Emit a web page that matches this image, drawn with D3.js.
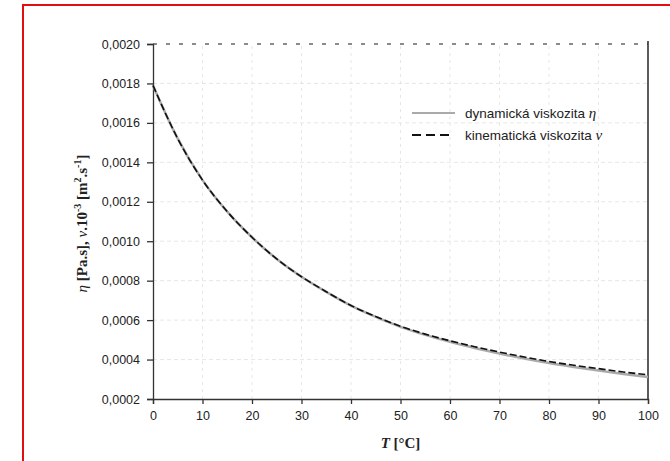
<!DOCTYPE html>
<html lang="cs">
<head>
<meta charset="UTF-8">
<title>Viskozita vody</title>
<script src="https://d3js.org/d3.v7.min.js"></script>
<style>
  body { margin: 0; background: #fff; }
  .tick text { font-family: Arial, "Liberation Sans", sans-serif; font-size: 12.5px; fill: #222; }
  .lab { font-family: "Liberation Serif", "Times New Roman", serif; font-weight: bold; font-size: 15px; fill: #222; }
  .leg { font-family: Arial, "Liberation Sans", sans-serif; font-size: 13.5px; fill: #222; }
</style>
</head>
<body>
<svg id="chart" width="670" height="461"></svg>
<script>
// temperatures [°C]
const temps = [0, 5, 10, 15, 20, 25, 30, 35, 40, 45, 50, 55, 60, 65, 70, 75, 80, 85, 90, 95, 100];
// dynamic viscosity eta [Pa.s]
const dynVisc = [0.00179, 0.00152, 0.00131, 0.00115, 0.00102, 0.00091, 0.00082, 0.000743, 0.000673, 0.000616,
  0.000566, 0.000525, 0.00049, 0.000459, 0.000431, 0.000405, 0.000382, 0.000362, 0.000344, 0.000327, 0.000312];
// kinematic viscosity nu * 10^-3 [m2.s-1]
const kinVisc = [0.00179, 0.00152, 0.00131, 0.00115, 0.00102, 0.00091, 0.00082, 0.000744, 0.000674, 0.000618,
  0.000569, 0.000529, 0.000495, 0.000465, 0.000438, 0.000413, 0.00039, 0.000371, 0.000354, 0.000337, 0.000323];
const xTicks = [0, 10, 20, 30, 40, 50, 60, 70, 80, 90, 100];
const yTicks = [0.0002, 0.0004, 0.0006, 0.0008, 0.0010, 0.0012, 0.0014, 0.0016, 0.0018, 0.0020];

const svg = d3.select("#chart");
const margin = { top: 44, left: 153, right: 22, bottom: 62 };
const W = 670, H = 461;

// red frame (cut by the picture on right and bottom)
svg.append("rect").attr("x", 23).attr("y", 5).attr("width", 700).attr("height", 500)
  .attr("fill", "none").attr("stroke", "#e01010").attr("stroke-width", 2);

const x = d3.scaleLinear().domain([0, 100]).range([margin.left, W - margin.right]);
const y = d3.scaleLinear().domain([0.0002, 0.0020]).range([H - margin.bottom, margin.top]);

// grid
const g = svg.append("g");
g.selectAll(".vg").data(xTicks.slice(1, -1)).join("line")
  .attr("x1", d => x(d)).attr("x2", d => x(d)).attr("y1", y(0.0002)).attr("y2", y(0.0020))
  .attr("stroke", "#ddd").attr("stroke-width", 0.7).attr("stroke-dasharray", "3,4");
g.selectAll(".hg").data(yTicks.slice(1, -1)).join("line")
  .attr("x1", x(0)).attr("x2", x(100)).attr("y1", d => y(d)).attr("y2", d => y(d))
  .attr("stroke", "#ddd").attr("stroke-width", 0.7).attr("stroke-dasharray", "4,3");
// top border dotted
g.append("line").attr("x1", x(0)).attr("x2", x(100)).attr("y1", y(0.0020)).attr("y2", y(0.0020))
  .attr("stroke", "#666").attr("stroke-width", 1.3).attr("stroke-dasharray", "4,9");
// right border
g.append("line").attr("x1", x(100)).attr("x2", x(100)).attr("y1", y(0.0020) - 3).attr("y2", y(0.0002))
  .attr("stroke", "#333").attr("stroke-width", 1.6);

// axes
const fmt = d => d.toFixed(4).replace(".", ",");
svg.append("g").attr("transform", `translate(${x(0)},0)`)
  .call(d3.axisLeft(y).tickValues(yTicks).tickFormat(fmt).tickSize(6).tickPadding(7))
  .call(s => s.selectAll("path, line").attr("stroke", "#333").attr("stroke-width", 1.3));
svg.append("g").attr("transform", `translate(0,${y(0.0002)})`)
  .call(d3.axisBottom(x).tickValues(xTicks).tickSize(5).tickPadding(7))
  .call(s => s.selectAll("path, line").attr("stroke", "#333").attr("stroke-width", 1.3));

// curves
const line = d3.line().curve(d3.curveMonotoneX);
svg.append("path").datum(temps.map((t, i) => [x(t), y(dynVisc[i])]))
  .attr("d", line).attr("fill", "none").attr("stroke", "#aaa").attr("stroke-width", 2.5);
svg.append("path").datum(temps.map((t, i) => [x(t), y(kinVisc[i])]))
  .attr("d", line).attr("fill", "none").attr("stroke", "#111").attr("stroke-width", 1.6)
  .attr("stroke-dasharray", "7,3");

// legend
const lg = svg.append("g").attr("transform", "translate(412,113)");
lg.append("line").attr("x1", 0).attr("x2", 43).attr("y1", 0).attr("y2", 0)
  .attr("stroke", "#aaa").attr("stroke-width", 2);
lg.append("line").attr("x1", 0).attr("x2", 40).attr("y1", 22).attr("y2", 22)
  .attr("stroke", "#111").attr("stroke-width", 1.8).attr("stroke-dasharray", "9,5");
const t1 = lg.append("text").attr("class", "leg").attr("x", 53).attr("y", 4.5);
t1.append("tspan").text("dynamická viskozita ");
t1.append("tspan").attr("font-family", "Liberation Serif, serif").attr("font-style", "italic").attr("font-size", 15).text("η");
const t2 = lg.append("text").attr("class", "leg").attr("x", 53).attr("y", 26.5);
t2.append("tspan").text("kinematická viskozita ");
t2.append("tspan").attr("font-family", "Liberation Serif, serif").attr("font-style", "italic").attr("font-size", 15).text("ν");

// axis titles
const yl = svg.append("text").attr("class", "lab")
  .attr("transform", `translate(87,${(y(0.0002) + y(0.0020)) / 2 + 2}) rotate(-90)`)
  .attr("text-anchor", "middle");
yl.append("tspan").attr("font-style", "italic").attr("font-weight", "normal").text("η");
yl.append("tspan").text(" [Pa.s], ");
yl.append("tspan").attr("font-style", "italic").attr("font-weight", "normal").text("ν");
yl.append("tspan").text(".10");
yl.append("tspan").attr("dy", -6).attr("font-size", 10).text("-3");
yl.append("tspan").attr("dy", 6).text(" [m");
yl.append("tspan").attr("dy", -6).attr("font-size", 10).text("2");
yl.append("tspan").attr("dy", 6).text(".s");
yl.append("tspan").attr("dy", -6).attr("font-size", 10).text("-1");
yl.append("tspan").attr("dy", 6).text("]");

const xl = svg.append("text").attr("class", "lab").attr("x", x(50)).attr("y", 448)
  .attr("text-anchor", "middle").attr("font-size", 16);
xl.append("tspan").attr("font-style", "italic").text("T");
xl.append("tspan").text(" [°C]");
</script>
</body>
</html>
